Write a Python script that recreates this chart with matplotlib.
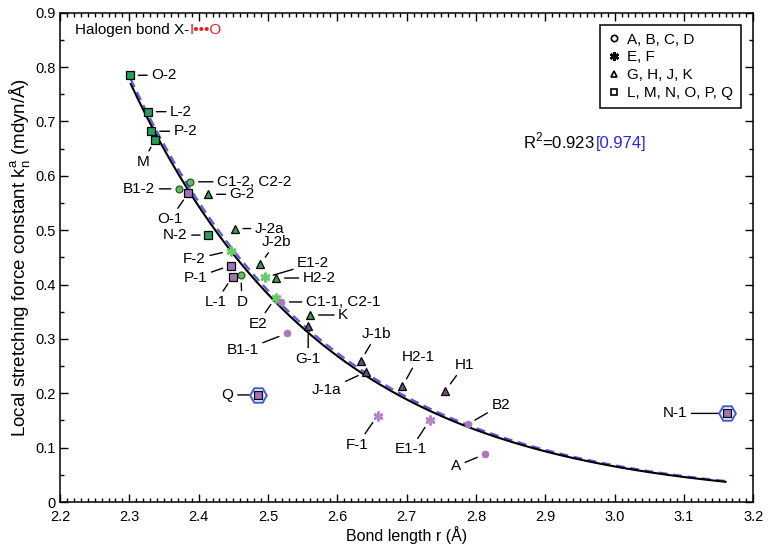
import numpy as np
import matplotlib
matplotlib.use("Agg")
import matplotlib.pyplot as plt
from matplotlib.lines import Line2D
from matplotlib.ticker import MultipleLocator, FuncFormatter

plt.rcParams["font.family"] = ["Liberation Sans", "DejaVu Sans"]
plt.rcParams["font.size"] = 10

# data
names = ["O-2", "L-2", "P-2", "M", "B1-2", "C1-2, C2-2", "O-1", "G-2", "J-2a", "N-2",
         "F-2", "P-1", "L-1", "D", "J-2b", "E1-2", "H2-2", "E2", "C1-1, C2-1", "K",
         "G-1", "B1-1", "J-1b", "J-1a", "H2-1", "H1", "B2", "A", "F-1", "E1-1",
         "Q", "N-1"]
r = [2.301, 2.327, 2.332, 2.337, 2.372, 2.388, 2.385, 2.414, 2.452, 2.414,
     2.446, 2.446, 2.449, 2.461, 2.489, 2.496, 2.512, 2.511, 2.519, 2.561,
     2.558, 2.527, 2.634, 2.641, 2.694, 2.756, 2.788, 2.813, 2.658, 2.733,
     2.485, 3.162]
k = [0.785, 0.718, 0.682, 0.666, 0.576, 0.589, 0.568, 0.566, 0.503, 0.491,
     0.462, 0.435, 0.414, 0.418, 0.438, 0.413, 0.412, 0.376, 0.368, 0.344,
     0.324, 0.310, 0.260, 0.239, 0.213, 0.205, 0.143, 0.088, 0.159, 0.150,
     0.197, 0.163]
# 2 = green set, 1 = purple set
site = [2, 2, 2, 2, 2, 2, 1, 2, 2, 2,
        2, 1, 1, 2, 2, 2, 2, 2, 1, 2,
        1, 1, 1, 1, 1, 1, 1, 1, 1, 1,
        1, 1]
highlighted = ["Q", "N-1"]

# fitted curves k = k0 * exp(-b (r - r0))
fit_r = [2.302, 3.16]
fit_black = (0.769, 3.53)
fit_blue = (0.778, 3.50)

legend_labels = ["A, B, C, D", "E, F", "G, H, J, K", "L, M, N, O, P, Q"]

# label offsets in pixels (dx right, dy down)
label_offsets = {
    "O-2": (34, 0), "L-2": (33, 0), "P-2": (34, 0), "M": (-12, 22),
    "C1-2, C2-2": (64, 0), "B1-2": (-40, 0), "G-2": (34, 0), "O-1": (-18, 26),
    "N-2": (-33, 0), "J-2a": (35, 0), "F-2": (-36, 8), "P-1": (-35, 12),
    "L-1": (-17, 25), "D": (1, 27), "J-2b": (16, -22), "E1-2": (48, -14),
    "H2-2": (43, 0), "E2": (-18, 26), "C1-1, C2-1": (62, 0), "K": (33, 0),
    "G-1": (0, 33), "B1-1": (-44, 17), "J-1b": (16, -27), "J-1a": (-39, 18),
    "H2-1": (16, -29), "H1": (19, -26), "B2": (33, -19), "F-1": (-20, 29),
    "E1-1": (-19, 29), "A": (-29, 12), "Q": (-30, 0), "N-1": (-52, 0),
}


def shape_of(name):
    c = name[0]
    if c in "ABCD":
        return "o"
    if c in "EF":
        return "*"
    if c in "GHJK":
        return "^"
    return "s"


style = {
    ("s", 2): dict(marker="s", ms=5.5, mfc="#23a05a", mec="black", mew=0.9),
    ("o", 2): dict(marker="o", ms=5, mfc="#6cb85e", mec="#1d4a1d", mew=0.8),
    ("^", 2): dict(marker="^", ms=5.5, mfc="#3f9a46", mec="black", mew=0.9),
    ("*", 2): dict(marker=(6, 2, 0), ms=7, mfc="#66cc66", mec="#66cc66", mew=1.8),
    ("s", 1): dict(marker="s", ms=5.5, mfc="#a274b6", mec="black", mew=0.9),
    ("o", 1): dict(marker="o", ms=5, mfc="#a878b8", mec="#a878b8", mew=0.5),
    ("^", 1): dict(marker="^", ms=5.5, mfc="#6e4c82", mec="black", mew=0.9),
    ("*", 1): dict(marker=(6, 2, 0), ms=7, mfc="#b584cc", mec="#b584cc", mew=1.8),
}

fig = plt.figure(figsize=(7.7, 5.48), dpi=100)
ax = fig.add_axes([0.0779, 0.0839, 0.9004, 0.8929])

rr = np.linspace(fit_r[0], fit_r[1], 300)
k0, b = fit_blue
ax.plot(rr, k0 * np.exp(-b * (rr - fit_r[0])), color="#5a5ae0", lw=1.6,
        ls=(0, (4, 2.5)), zorder=2)
k0, b = fit_black
ax.plot(rr, k0 * np.exp(-b * (rr - fit_r[0])), color="black", lw=1.5, zorder=3)

for n, x, y, s in zip(names, r, k, site):
    if n in highlighted:
        ax.plot(x, y, marker="H", ms=12, mfc="white", mec="#3a5ae0", mew=1.4,
                zorder=4)
    ax.plot(x, y, ls="none", zorder=5, **style[(shape_of(n), s)])
    dx, dy = label_offsets[n]
    ax.annotate(n, (x, y), xytext=(dx, -dy), textcoords="offset pixels",
                ha="center", va="center", fontsize=11,
                arrowprops=dict(arrowstyle="-", lw=1, color="black",
                                shrinkA=1, shrinkB=6))

ax.set_xlim(2.2, 3.2)
ax.set_ylim(0, 0.9)
ax.xaxis.set_major_locator(MultipleLocator(0.1))
ax.xaxis.set_minor_locator(MultipleLocator(0.01))
ax.yaxis.set_major_locator(MultipleLocator(0.1))
ax.yaxis.set_minor_locator(MultipleLocator(0.05))
ax.xaxis.set_major_formatter(FuncFormatter(lambda v, p: f"{v:.1f}"))
ax.yaxis.set_major_formatter(FuncFormatter(lambda v, p: "0" if abs(v) < 1e-9 else f"{v:.1f}"))
ax.tick_params(which="both", direction="in", top=True, right=True, labelsize=10.5)
ax.tick_params(which="major", length=6, width=1)
ax.tick_params(which="minor", length=3, width=1)
ax.tick_params(axis="x", pad=5.5)
ax.tick_params(axis="y", pad=3)
for sp in ax.spines.values():
    sp.set_linewidth(1.1)

ax.set_xlabel("Bond length r (Å)", fontsize=11.5, labelpad=1.5)
ax.set_ylabel("Local stretching force constant k$_\\mathregular{n}^\\mathregular{a}$ (mdyn/Å)",
              fontsize=13.5, labelpad=2)

t1 = ax.text(0.022, 0.965, "Halogen bond X-", transform=ax.transAxes,
             fontsize=11, ha="left", va="center")
ax.annotate("I•••O", xy=(1, 0), xycoords=t1, va="bottom", ha="left",
            fontsize=11, color="#e8201e")

t2 = ax.text(0.668, 0.738, "R$^\\mathregular{2}$=0.923 ", transform=ax.transAxes,
             fontsize=12, ha="left", va="center")
ax.annotate("[0.974]", xy=(1, 0), xycoords=t2, va="bottom", ha="left",
            fontsize=12, color="#2a2ad8")

handles = [
    Line2D([], [], ls="none", marker="o", ms=4.5, mfc="white", mec="black", mew=1.2),
    Line2D([], [], ls="none", marker=(6, 2, 0), ms=6.5, mec="black", mew=1.8),
    Line2D([], [], ls="none", marker="^", ms=4.5, mfc="white", mec="black", mew=1.2),
    Line2D([], [], ls="none", marker="s", ms=4.5, mfc="white", mec="black", mew=1.2),
]
leg = ax.legend(handles, legend_labels, loc="upper right", fontsize=11,
                frameon=True, fancybox=False, edgecolor="black", framealpha=1,
                borderaxespad=0.8, handlelength=0.8, handletextpad=0.5,
                labelspacing=0.25, borderpad=0.5)
leg.get_frame().set_linewidth(1.1)

fig.savefig("out.png", dpi=100)
